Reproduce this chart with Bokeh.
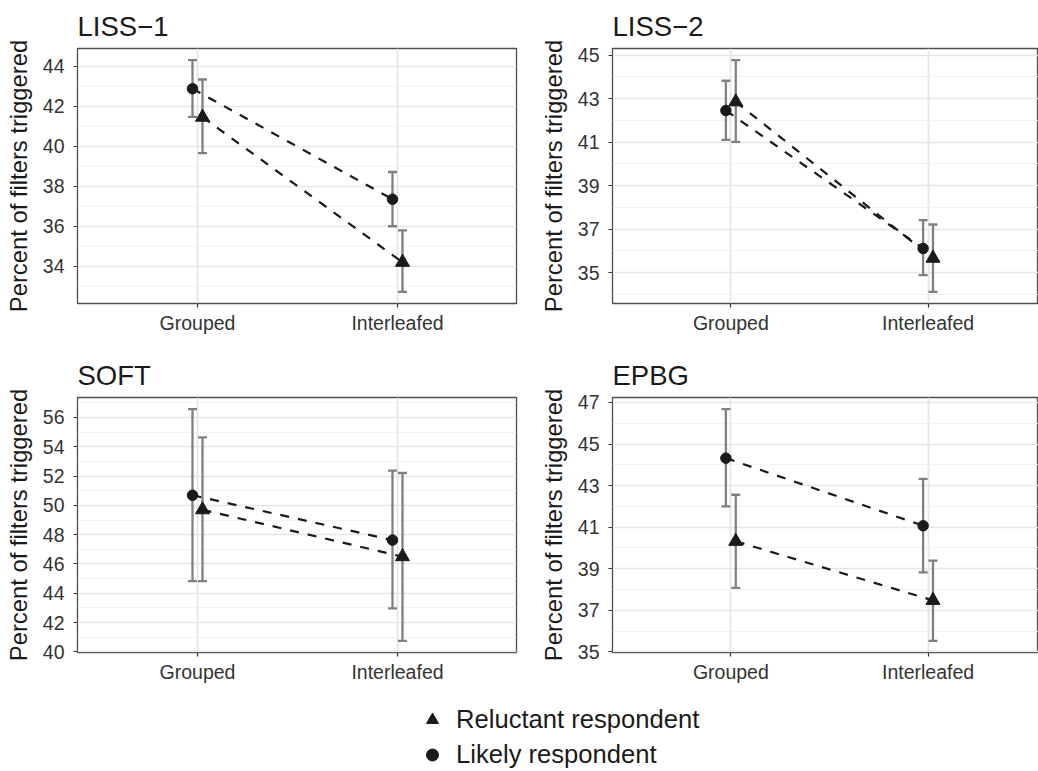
import numpy as np
from bokeh.plotting import figure
from bokeh.models import ColumnDataSource, FixedTicker, Whisker, TeeHead, Legend, LegendItem, Range1d
from bokeh.layouts import column, row
from bokeh.embed import file_html
from bokeh.resources import INLINE

# ---------------- data ----------------
conditions = ["Grouped", "Interleafed"]
panel_titles = ["LISS\u22121", "LISS\u22122", "SOFT", "EPBG"]
series_labels = ["Reluctant respondent", "Likely respondent"]

liss1_likely = [42.87, 37.35]
liss1_likely_lo = [41.46, 36.00]
liss1_likely_hi = [44.30, 38.71]
liss1_reluct = [41.45, 34.20]
liss1_reluct_lo = [39.65, 32.72]
liss1_reluct_hi = [43.33, 35.79]
liss1_ticks = [34, 36, 38, 40, 42, 44]

liss2_likely = [42.45, 36.11]
liss2_likely_lo = [41.10, 34.88]
liss2_likely_hi = [43.82, 37.41]
liss2_reluct = [42.85, 35.66]
liss2_reluct_lo = [41.01, 34.11]
liss2_reluct_hi = [44.77, 37.21]
liss2_ticks = [35, 37, 39, 41, 43, 45]

soft_likely = [50.69, 47.63]
soft_likely_lo = [44.83, 42.97]
soft_likely_hi = [56.57, 52.37]
soft_reluct = [49.70, 46.50]
soft_reluct_lo = [44.83, 40.75]
soft_reluct_hi = [54.64, 52.21]
soft_ticks = [40, 42, 44, 46, 48, 50, 52, 54, 56]

epbg_likely = [44.32, 41.07]
epbg_likely_lo = [42.00, 38.83]
epbg_likely_hi = [46.68, 43.32]
epbg_reluct = [40.32, 37.48]
epbg_reluct_lo = [38.08, 35.53]
epbg_reluct_hi = [42.56, 39.39]
epbg_ticks = [35, 37, 39, 41, 43, 45, 47]

# ---------------- style ----------------
FONT = "Liberation Sans"
INK = "#1a1a1a"
ERR = "#808080"
BORDER = "#4d4d4d"
dodge = 0.025

def make_panel(title, likely, llo, lhi, reluct, rlo, rhi, yticks, left, top):
    if left:
        width, mbl, mbr = 536, 77, 20
    else:
        width, mbl, mbr = 502, 70, 0
    if top:
        height, mbt, mbb = 348, 48, 45
    else:
        height, mbt, mbb = 339, 49, 35
    frame_w = width - mbl - mbr
    x0 = 0.4
    x1 = x0 + frame_w / 200.0

    lo = min(llo + rlo)
    hi = max(lhi + rhi)
    pad = 0.05 * (hi - lo)

    p = figure(width=width, height=height, output_backend="svg", toolbar_location=None,
               x_range=Range1d(x0, x1), y_range=Range1d(lo - pad, hi + pad),
               min_border_left=mbl, min_border_right=mbr,
               min_border_top=mbt, min_border_bottom=mbb)
    p.title.text = title
    p.title.text_font = FONT
    p.title.text_font_size = "27.5px"
    p.title.text_font_style = "normal"
    p.title.text_color = INK
    p.title.align = "left"
    p.title.standoff = 14

    p.outline_line_color = BORDER
    p.outline_line_width = 1.3
    p.background_fill_color = "white"
    p.border_fill_color = "white"

    step = yticks[1] - yticks[0]
    minor = [yticks[0] - step / 2] + [t + step / 2 for t in yticks]
    p.yaxis.ticker = FixedTicker(ticks=yticks, minor_ticks=minor)
    xs = list(range(1, len(conditions) + 1))
    p.xaxis.ticker = FixedTicker(ticks=xs)
    p.xaxis.major_label_overrides = {i: c for i, c in zip(xs, conditions)}

    for ax in (p.xaxis[0], p.yaxis[0]):
        ax.axis_line_color = None
        ax.major_tick_out = 4
        ax.major_tick_in = 0
        ax.minor_tick_out = 0
        ax.minor_tick_in = 0
        ax.major_tick_line_color = "#333333"
        ax.major_tick_line_width = 1.2
        ax.major_label_text_font = FONT
        ax.major_label_text_font_size = "19.5px"
        ax.major_label_text_color = "#333333"
    p.yaxis.major_label_standoff = 9
    p.xaxis.major_label_standoff = 4
    p.yaxis.axis_label = "Percent of filters triggered"
    p.yaxis.axis_label_text_font = FONT
    p.yaxis.axis_label_text_font_size = "23.8px"
    p.yaxis.axis_label_text_font_style = "normal"
    p.yaxis.axis_label_text_color = INK
    p.yaxis.axis_label_standoff = 8

    p.ygrid.grid_line_color = "#e6e6e6"
    p.ygrid.grid_line_width = 1.5
    p.ygrid.minor_grid_line_color = "#f0f0f0"
    p.ygrid.minor_grid_line_width = 0.9
    p.xgrid.grid_line_color = "#e6e6e6"
    p.xgrid.grid_line_width = 1.8

    x = np.array(xs, dtype=float)
    src_l = ColumnDataSource(dict(x=x - dodge, y=likely, lo=llo, hi=lhi))
    src_r = ColumnDataSource(dict(x=x + dodge, y=reluct, lo=rlo, hi=rhi))

    for src in (src_l, src_r):
        w = Whisker(source=src, base="x", lower="lo", upper="hi", dimension="height",
                    line_color=ERR, line_width=2.3, level="underlay",
                    lower_head=TeeHead(size=9, line_color=ERR, line_width=2.3),
                    upper_head=TeeHead(size=9, line_color=ERR, line_width=2.3))
        p.add_layout(w)
        p.line("x", "y", source=src, line_dash="9 9", line_width=2.2, line_color=INK)

    p.scatter("x", "y", source=src_l, marker="circle", size=10.5, fill_color=INK, line_color=INK)
    p.scatter("x", "y", source=src_r, marker="triangle", size=14, fill_color=INK, line_color=INK)
    return p

p1 = make_panel(panel_titles[0], liss1_likely, liss1_likely_lo, liss1_likely_hi,
                liss1_reluct, liss1_reluct_lo, liss1_reluct_hi, liss1_ticks, True, True)
p2 = make_panel(panel_titles[1], liss2_likely, liss2_likely_lo, liss2_likely_hi,
                liss2_reluct, liss2_reluct_lo, liss2_reluct_hi, liss2_ticks, False, True)
p3 = make_panel(panel_titles[2], soft_likely, soft_likely_lo, soft_likely_hi,
                soft_reluct, soft_reluct_lo, soft_reluct_hi, soft_ticks, True, False)
p4 = make_panel(panel_titles[3], epbg_likely, epbg_likely_lo, epbg_likely_hi,
                epbg_reluct, epbg_reluct_lo, epbg_reluct_hi, epbg_ticks, False, False)

# ---------------- legend ----------------
lf = figure(width=1038, height=84, output_backend="svg", toolbar_location=None,
            x_range=Range1d(0, 1), y_range=Range1d(0, 1),
            x_axis_type=None, y_axis_type=None, min_border=0)
lf.grid.visible = False
lf.outline_line_color = None
key_src = ColumnDataSource(dict(x=[np.nan], y=[np.nan]))
r_tri = lf.scatter("x", "y", source=key_src, marker="triangle", fill_color=INK, line_color=INK)
r_cir = lf.scatter("x", "y", source=key_src, marker="circle", fill_color=INK, line_color=INK)
legend = Legend(items=[LegendItem(label=series_labels[0], renderers=[r_tri]),
                       LegendItem(label=series_labels[1], renderers=[r_cir])],
                location=(417, -1), orientation="vertical",
                glyph_width=30, glyph_height=35, label_height=35, label_standoff=9,
                padding=0, spacing=0, margin=0,
                border_line_color=None, background_fill_alpha=0,
                label_text_font=FONT, label_text_font_size="25.6px", label_text_color=INK)
lf.add_layout(legend, "center")

layout = column(row(p1, p2), row(p3, p4), lf)
open("out.html", "w").write(file_html(layout, INLINE))
